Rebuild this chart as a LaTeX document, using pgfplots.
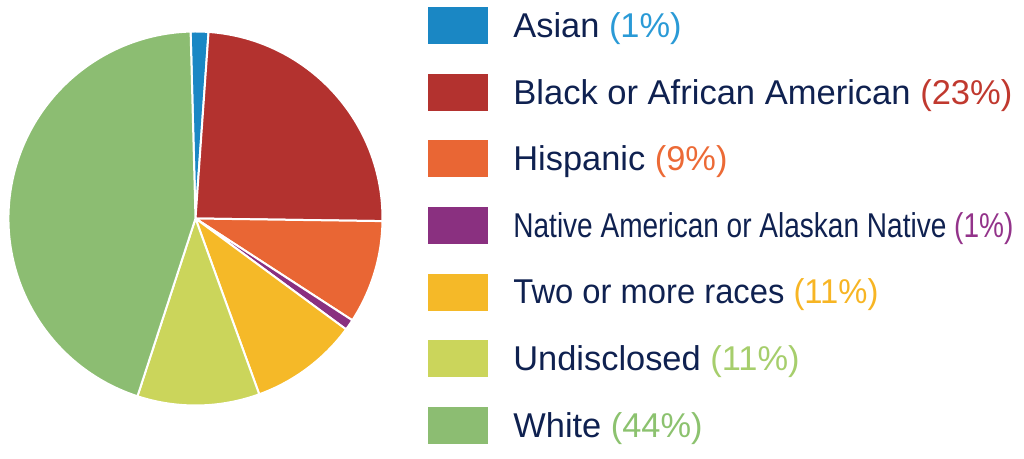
\documentclass[border=0pt]{standalone}
\usepackage{pgfplots}
\pgfplotsset{compat=1.18}
\usepackage{pgfplotstable}
\usepackage{graphicx}
\usepackage{fontspec}
\setmainfont{Liberation Sans}

\definecolor{pie0}{HTML}{1A87C4}
\definecolor{pie1}{HTML}{B3322F}
\definecolor{pie2}{HTML}{E96634}
\definecolor{pie3}{HTML}{8A3080}
\definecolor{pie4}{HTML}{F5B928}
\definecolor{pie5}{HTML}{CBD55B}
\definecolor{pie6}{HTML}{8CBD72}
\definecolor{navy}{HTML}{0F2150}
\definecolor{txt0}{HTML}{2A9AD6}
\definecolor{txt1}{HTML}{C0392F}
\definecolor{txt2}{HTML}{EC6A36}
\definecolor{txt3}{HTML}{93338A}
\definecolor{txt4}{HTML}{F7B524}
\definecolor{txt5}{HTML}{A6CE6C}
\definecolor{txt6}{HTML}{8CC26F}

\pgfplotstableread[col sep=comma]{
name,pct
Asian,1.53
Black,24.11
Hispanic,8.94
Native,0.94
Two,9.36
Undisclosed,10.56
White,44.56
}\piedata

\newcommand\lfont{\fontsize{17.2pt}{20pt}\selectfont}

\begin{document}
\begin{tikzpicture}
\useasboundingbox (0,0) rectangle (512pt,229.5pt);
\begin{axis}[
  at={(0,0)}, anchor=south west,
  x=0.5pt, y=0.5pt,
  xmin=0, xmax=1024, ymin=0, ymax=459,
  hide axis, clip=false,
]
\pgfplotsextra{
  \gdef\curang{91.5}
  \foreach \i in {0,...,6}{
    \pgfplotstablegetelem{\i}{pct}\of\piedata
    \pgfmathsetmacro\endang{\curang-3.6*\pgfplotsretval}
    \fill[pie\i, draw=white, line width=1pt, line join=round]
      (axis cs:195.5,240.5) -- ++(\curang:93.5pt)
      arc[start angle=\curang, end angle=\endang, radius=93.5pt] -- cycle;
    \xdef\curang{\endang}
  }
  \foreach \i in {0,...,6}{
    \pgfmathsetmacro\yc{459-(25.8+66.6*\i)}
    \fill[pie\i] (axis cs:428,\yc-18.5) rectangle (axis cs:488,\yc+18.5);
  }
}
\node[anchor=base west, inner sep=0, text=navy, font=\lfont] at (axis cs:513,{459-(25.8+11.7)})
  {Asian \textcolor{txt0}{(1\%)}};
\node[anchor=base west, inner sep=0, text=navy, font=\lfont] at (axis cs:513,{459-(92.4+11.7)})
  {\resizebox{249.5pt}{\height}{Black or African American \textcolor{txt1}{(23\%)}}};
\node[anchor=base west, inner sep=0, text=navy, font=\lfont] at (axis cs:513,{459-(159.0+11.7)})
  {Hispanic \textcolor{txt2}{(9\%)}};
\node[anchor=base west, inner sep=0, text=navy, font=\lfont] at (axis cs:513,{459-(225.6+11.7)})
  {\resizebox{250pt}{\height}{Native American or Alaskan Native \textcolor{txt3}{(1\%)}}};
\node[anchor=base west, inner sep=0, text=navy, font=\lfont] at (axis cs:513,{459-(292.2+11.7)})
  {\resizebox{182.5pt}{\height}{Two or more races \textcolor{txt4}{(11\%)}}};
\node[anchor=base west, inner sep=0, text=navy, font=\lfont] at (axis cs:513,{459-(358.8+11.7)})
  {Undisclosed \textcolor{txt5}{(11\%)}};
\node[anchor=base west, inner sep=0, text=navy, font=\lfont] at (axis cs:513,{459-(425.4+11.7)})
  {White \textcolor{txt6}{(44\%)}};
\end{axis}
\end{tikzpicture}
\end{document}
